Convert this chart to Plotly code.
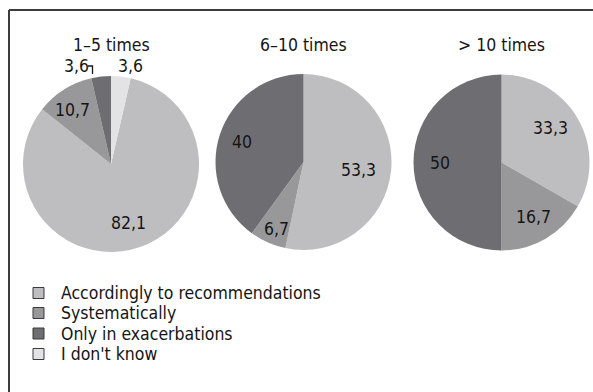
import plotly.graph_objects as go

W, H = 593, 392

categories = ["Accordingly to recommendations", "Systematically",
              "Only in exacerbations", "I don't know"]
colors = ["#bebec0", "#98989b", "#6e6e72", "#e3e3e5"]

titles = ["1\u20135 times", "6\u201310 times", "> 10 times"]
vals_1_5 = [82.1, 10.7, 3.6, 3.6]
vals_6_10 = [53.3, 6.7, 40.0, 0.0]
vals_gt10 = [33.3, 16.7, 50.0, 0.0]
series = [vals_1_5, vals_6_10, vals_gt10]

# layout (pixels): pie centers, radius, label positions
centers = [(111, 164), (303.5, 162), (501.5, 162.5)]
radius = 88
label_pos = [
    [(128, 223), (72, 110), (76, 66), (130, 66)],
    [(358, 170), (276, 229), (242, 142), None],
    [(550, 128), (533, 217), (440, 163), None],
]

FONT = "Liberation Sans Narrow, Arial Narrow, DejaVu Sans Condensed, sans-serif"
TXT = "#151515"
FS = 17.5


def px(x):
    return x / W


def py(y):
    return 1 - y / H


def fmt(v):
    s = ("%.1f" % v).rstrip("0").rstrip(".")
    return s.replace(".", ",")


fig = go.Figure()
annotations = []
shapes = []

for i, vals in enumerate(series):
    cx, cy = centers[i]
    # first slice starts after the last slice (clockwise from 12 o'clock)
    rot = vals[3] * 3.6
    fig.add_trace(go.Pie(
        labels=categories, values=vals, sort=False, direction="clockwise",
        rotation=rot, marker=dict(colors=colors, line=dict(width=0)),
        textinfo="none", hoverinfo="label+value", showlegend=False,
        domain=dict(x=[px(cx - radius), px(cx + radius)],
                    y=[py(cy + radius), py(cy - radius)]),
    ))
    annotations.append(dict(
        x=px(cx), y=py(45), xref="paper", yref="paper", text=titles[i],
        showarrow=False, font=dict(family=FONT, size=FS, color=TXT),
        xanchor="center", yanchor="middle"))
    for j, v in enumerate(vals):
        pos = label_pos[i][j]
        if v <= 0 or pos is None:
            continue
        annotations.append(dict(
            x=px(pos[0]), y=py(pos[1]), xref="paper", yref="paper",
            text=fmt(v), showarrow=False,
            font=dict(family=FONT, size=FS, color=TXT),
            xanchor="center", yanchor="middle"))

# leader bracket for small "3,6" slice
shapes.append(dict(type="path", xref="paper", yref="paper",
                   path="M %f %f L %f %f L %f %f" % (px(88), py(66), px(92.5), py(66), px(92.5), py(74)),
                   line=dict(color=TXT, width=1.3)))

# frame lines (top & left)
shapes.append(dict(type="line", xref="paper", yref="paper",
                   x0=px(9), x1=1, y0=py(10), y1=py(10),
                   line=dict(color="#3c3c3c", width=2)))
shapes.append(dict(type="line", xref="paper", yref="paper",
                   x0=px(9), x1=px(9), y0=py(10), y1=0,
                   line=dict(color="#3c3c3c", width=2)))

# manual legend
leg_y = [293, 313, 333.5, 354]
for k, cat in enumerate(categories):
    yy = leg_y[k]
    shapes.append(dict(type="rect", xref="paper", yref="paper",
                       x0=px(33), x1=px(44), y0=py(yy + 5.5), y1=py(yy - 5.5),
                       fillcolor=colors[k], line=dict(color="#3a3a3a", width=1)))
    annotations.append(dict(
        x=px(59), y=py(yy), xref="paper", yref="paper", text=cat,
        showarrow=False, font=dict(family=FONT, size=FS, color=TXT),
        xanchor="left", yanchor="middle"))

fig.update_layout(
    width=W, height=H, margin=dict(l=0, r=0, t=0, b=0),
    paper_bgcolor="white", plot_bgcolor="white",
    annotations=annotations, shapes=shapes, showlegend=False,
)

fig.write_html("out.html")
